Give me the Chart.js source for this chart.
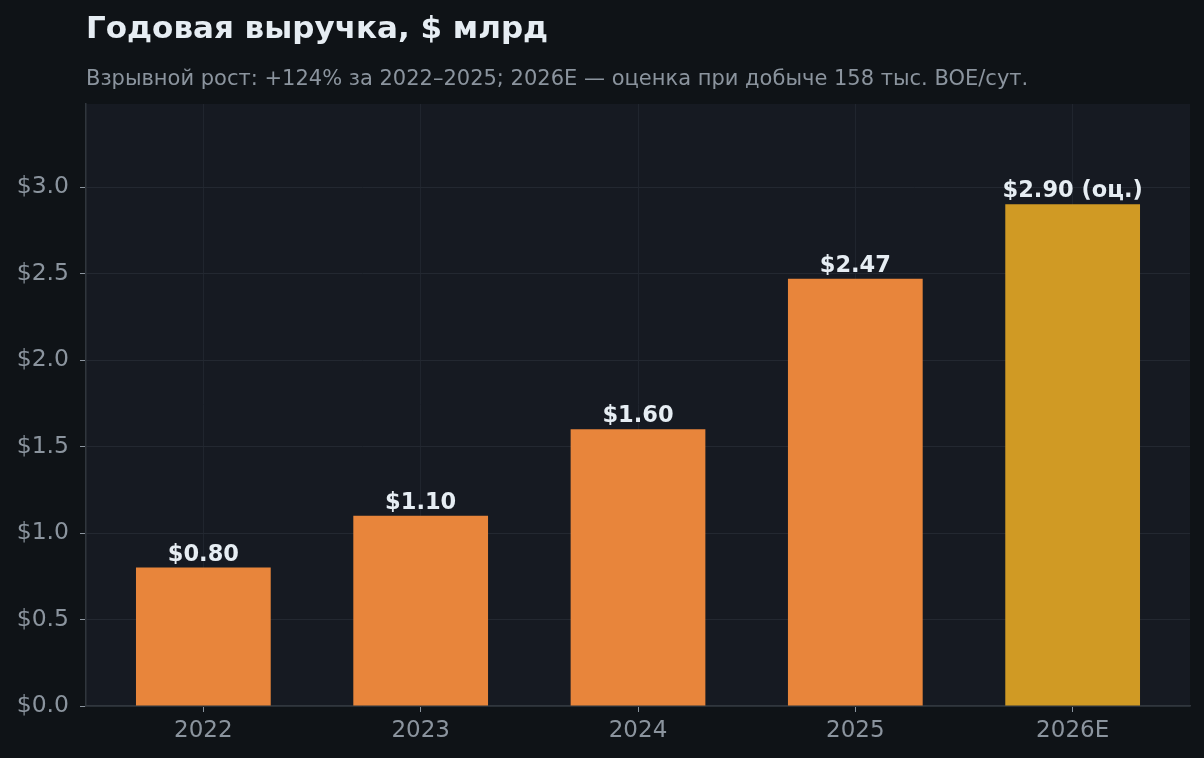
<!DOCTYPE html>
<html>
<head>
<meta charset="utf-8">
<script src="https://cdn.jsdelivr.net/npm/chart.js@4"></script>
<style>
  html, body { margin: 0; padding: 0; background: #0f1317; }
  #wrap { width: 1204px; height: 758px; }
</style>
</head>
<body>
<div id="wrap"><canvas id="myChart"></canvas></div>
<script>
var years = ["2022", "2023", "2024", "2025", "2026E"];
var revenue = [0.80, 1.10, 1.60, 2.47, 2.90];
var valueLabels = ["$0.80", "$1.10", "$1.60", "$2.47", "$2.90 (оц.)"];
var barColors = ["#e8853b", "#e8853b", "#e8853b", "#e8853b", "#d09a24"];
var yTicks = [0, 0.5, 1.0, 1.5, 2.0, 2.5, 3.0];

var titleText = "Годовая выручка, $ млрд";
var subtitleText = "Взрывной рост: +124% за 2022–2025; 2026E — оценка при добыче 158 тыс. BOE/сут.";

var font = "'DejaVu Sans', sans-serif";

// plot background + title texts
var decor = {
	id: 'decor',
	beforeDraw: function(chart) {
		var c = chart.ctx, a = chart.chartArea;
		c.save();
		c.fillStyle = '#0f1317';
		c.fillRect(0, 0, chart.width, chart.height);
		c.fillStyle = '#161a22';
		c.fillRect(a.left, a.top, a.right - a.left, a.bottom - a.top);
		c.restore();
	},
	afterDraw: function(chart) {
		var c = chart.ctx, a = chart.chartArea;
		c.save();
		c.textAlign = 'left';
		c.textBaseline = 'alphabetic';
		c.fillStyle = '#e6edf3';
		c.font = "bold 31px " + font;
		c.fillText(titleText, a.left, 38);
		c.fillStyle = '#8b949e';
		c.font = "21px " + font;
		c.fillText(subtitleText, a.left, 85);
		c.restore();
	}
};

// value labels over the bars
var barLabels = {
	id: 'barLabels',
	afterDatasetsDraw: function(chart) {
		var c = chart.ctx;
		var meta = chart.getDatasetMeta(0);
		c.save();
		c.textAlign = 'center';
		c.textBaseline = 'alphabetic';
		c.fillStyle = '#e6edf3';
		c.font = "bold 22.5px " + font;
		meta.data.forEach(function(bar, i) {
			c.fillText(valueLabels[i], bar.x, bar.y - 7);
		});
		c.restore();
	}
};

var points = revenue.map(function(v, i) { return { x: i, y: v }; });

var ctx = document.getElementById('myChart').getContext('2d');
var chart = new Chart(ctx, {
	type: 'bar',
	data: {
		datasets: [{
			data: points,
			backgroundColor: barColors,
			borderWidth: 0,
			barPercentage: 0.62,
			categoryPercentage: 1.0
		}]
	},
	options: {
		responsive: true,
		maintainAspectRatio: false,
		animation: false,
		layout: { padding: { top: 104, right: 14, left: 0, bottom: 0 } },
		plugins: {
			legend: { display: false },
			tooltip: { enabled: false }
		},
		scales: {
			x: {
				type: 'linear',
				min: -0.54,
				max: 4.54,
				offset: false,
				afterBuildTicks: function(s) {
					s.ticks = years.map(function(y, i) { return { value: i }; });
				},
				grid: { color: '#20252e', offset: false, tickLength: 6, tickColor: '#8b949e' },
				border: { color: '#30363d', width: 1.5 },
				ticks: {
					color: '#8b949e',
					font: { family: font, size: 23 },
					padding: 5,
					callback: function(v) { return years[v]; }
				},
				afterFit: function(s) { s.height = 52; }
			},
			y: {
				min: 0,
				max: 3.48,
				afterBuildTicks: function(s) {
					s.ticks = yTicks.map(function(v) { return { value: v }; });
				},
				grid: { color: '#232831', tickLength: 6, tickColor: '#8b949e' },
				border: { color: '#30363d', width: 1.5 },
				ticks: {
					color: '#8b949e',
					font: { family: font, size: 23.5 },
					padding: 11,
					callback: function(v) { return '$' + v.toFixed(1); }
				},
				afterFit: function(s) { s.width = 86; }
			}
		}
	},
	plugins: [decor, barLabels]
});
</script>
</body>
</html>
